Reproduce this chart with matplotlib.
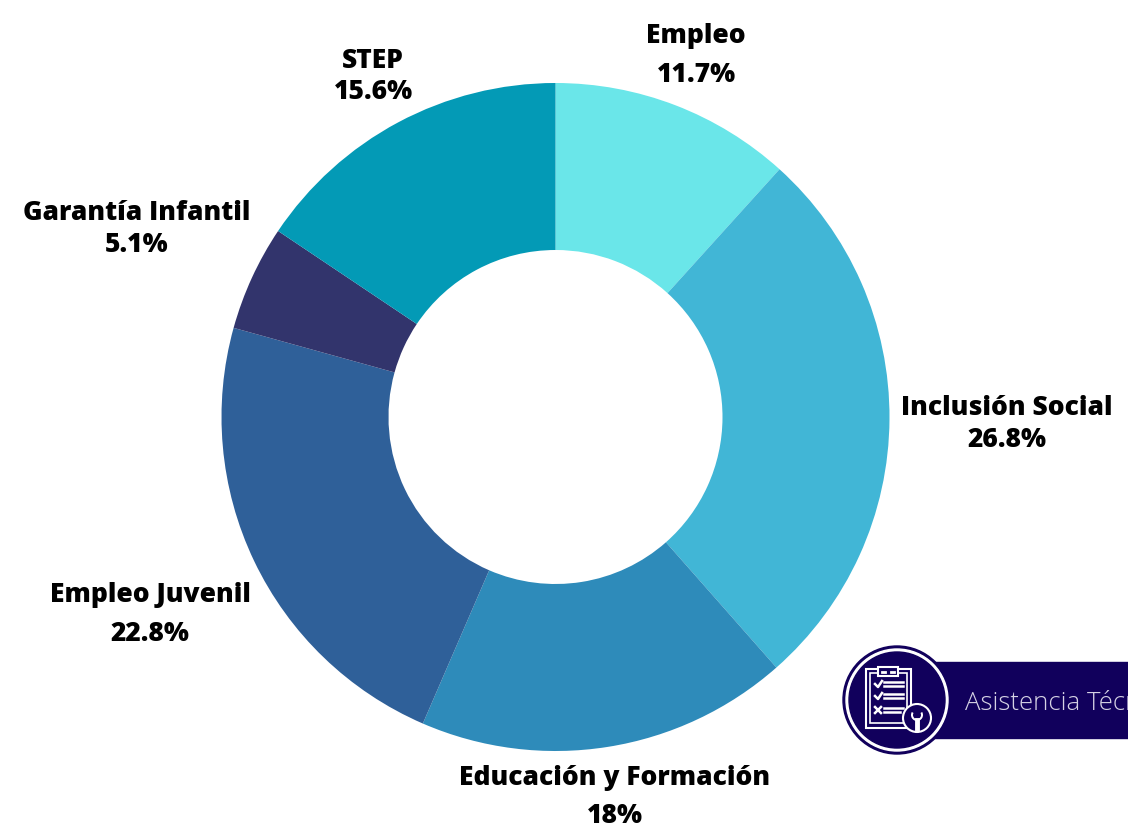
import matplotlib
matplotlib.use("Agg")
import matplotlib.pyplot as plt
from matplotlib.patches import Circle, Rectangle, Wedge

labels = ["Empleo", "Inclusión Social", "Educación y Formación", "Empleo Juvenil", "Garantía Infantil", "STEP"]
values = [11.7, 26.8, 18, 22.8, 5.1, 15.6]
value_labels = ["11.7%", "26.8%", "18%", "22.8%", "5.1%", "15.6%"]
colors = ["#6ae6e9", "#41b6d6", "#2e8bba", "#2f6099", "#32346c", "#039ab6"]
label_pos = [(696, 36), (1007, 408), (615, 778), (150, 595), (137, 213), (373, 61)]
value_pos = [(696, 75), (1007, 440), (615, 816), (150, 634), (137, 245), (373, 92)]

plt.rcParams['font.family'] = ['Open Sans', 'DejaVu Sans']

fig = plt.figure(figsize=(11.28, 8.27), dpi=100)
ax = fig.add_axes([0, 0, 1, 1])

# y axis is flipped below, so counterclock from 270 reads clockwise from the top
wedges, _ = ax.pie(values, colors=colors, startangle=270, counterclock=True,
                   center=(555.5, 417), radius=334, wedgeprops=dict(width=167),
                   frame=False)
ax.set_xlim(0, 1128)
ax.set_ylim(827, 0)
ax.set_aspect('equal')
ax.axis('off')

for name, val, p1, p2 in zip(labels, value_labels, label_pos, value_pos):
    ax.text(p1[0], p1[1], name, ha='center', va='center', fontsize=19, fontweight=800, color='black')
    ax.text(p2[0], p2[1], val, ha='center', va='center', fontsize=19, fontweight=800, color='black')

# badge bottom right
navy = "#11005c"
ax.add_patch(Rectangle((897, 662), 231, 76, color=navy, zorder=3))
ax.add_patch(Circle((897, 700), 54, color=navy, zorder=4))
ax.add_patch(Circle((897, 700), 51, color='white', zorder=5))
ax.add_patch(Circle((897, 700), 48, color=navy, zorder=6))
ax.text(965, 703, "Asistencia Técnica", ha='left', va='center', fontsize=18.5, color='#d5d2e4',
        fontweight='light', zorder=7)

# clipboard icon
ax.add_patch(Rectangle((865.5, 669), 45, 59, fc='none', ec='white', lw=1.5, zorder=7))
ax.add_patch(Rectangle((870, 673), 37, 50, fc='none', ec='white', lw=1.2, zorder=7))
ax.add_patch(Rectangle((878, 667), 20, 9, fc=navy, ec='white', lw=1.5, zorder=8))
ax.plot([882, 885], [671.5, 671.5], color='white', lw=2, zorder=9)
ax.plot([891, 894], [671.5, 671.5], color='white', lw=2, zorder=9)
for y in [684, 696]:
    ax.plot([884, 903], [y - 2, y - 2], color='white', lw=1.8, zorder=8)
    ax.plot([884, 903], [y + 2, y + 2], color='white', lw=1.8, zorder=8)
    ax.plot([875, 878, 882], [y, y + 3, y - 3], color='white', lw=1.8, zorder=8)
ax.plot([884, 903], [708, 708], color='white', lw=1.8, zorder=8)
ax.plot([884, 900], [712, 712], color='white', lw=1.8, zorder=8)
ax.plot([875, 881], [707, 713], color='white', lw=1.8, zorder=8)
ax.plot([875, 881], [713, 707], color='white', lw=1.8, zorder=8)

# wrench disc
ax.add_patch(Circle((917, 718), 14, fc=navy, ec='white', lw=1.5, zorder=9))
ax.add_patch(Wedge((917, 715), 6, 330, 210, width=2, fc='white', ec='none', zorder=10))
ax.plot([917, 917], [720, 729], color='white', lw=3.5, zorder=10)

fig.savefig("out.png", dpi=100)
